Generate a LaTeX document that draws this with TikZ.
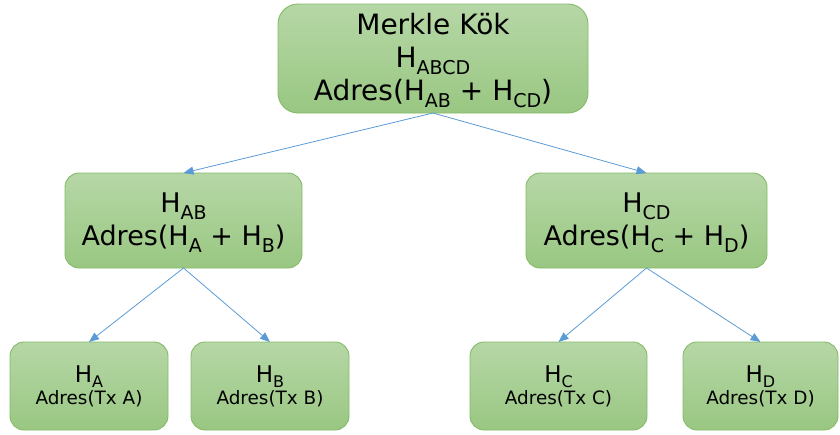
\documentclass[tikz,border=0pt]{standalone}
\usepackage{fontspec}
\setmainfont{DejaVu Sans}
\usetikzlibrary{arrows.meta}

\definecolor{boxtop}{RGB}{182,215,166}
\definecolor{boxbot}{RGB}{153,199,130}
\definecolor{boxline}{RGB}{133,186,104}
\definecolor{linkblue}{RGB}{91,155,213}

% lowered index text for the hash names
\newcommand\bigidx[1]{\smash{\raisebox{-7pt}{\fontsize{19}{19}\selectfont #1}}}
\newcommand\smallidx[1]{\smash{\raisebox{-5.5pt}{\fontsize{16}{16}\selectfont #1}}}

\tikzset{
  hashbox/.style={draw=boxline, line width=0.9pt, top color=boxtop, bottom color=boxbot,
    rounded corners=14pt, inner sep=0pt, outer sep=0pt, align=center, text=black},
  rootbox/.style={hashbox, rounded corners=20pt, font=\fontsize{28}{33}\selectfont},
  midbox/.style={hashbox, font=\fontsize{27}{33}\selectfont},
  leafbox/.style={hashbox, minimum height=88pt, font=\fontsize{18.4}{22}\selectfont},
  link/.style={draw=linkblue, line width=0.8pt, -{Triangle[length=10pt,width=8pt]}}
}

\begin{document}
\begin{tikzpicture}[x=1pt, y=-1pt]
\useasboundingbox (0,0) rectangle (840,434);

\node[rootbox, minimum width=310pt, minimum height=109pt] (root) at (433,58.5)
  {\raisebox{0pt}[0pt][0pt]{}Merkle Kök\\H\bigidx{ABCD}\\Adres(H\bigidx{AB} + H\bigidx{CD})};

\node[midbox, minimum width=237pt, minimum height=95pt] (hab) at (183.5,220.5)
  {H\bigidx{AB}\\Adres(H\bigidx{A} + H\bigidx{B})};
\node[midbox, minimum width=241pt, minimum height=95pt] (hcd) at (646.5,220.5)
  {H\bigidx{CD}\\Adres(H\bigidx{C} + H\bigidx{D})};

\node[leafbox, minimum width=158pt] (ha) at (89,386)
  {{\fontsize{23}{22}\selectfont H\smallidx{A}}\\Adres(Tx A)};
\node[leafbox, minimum width=158pt] (hb) at (270,386)
  {{\fontsize{23}{22}\selectfont H\smallidx{B}}\\Adres(Tx B)};
\node[leafbox, minimum width=177pt] (hc) at (558.5,386)
  {{\fontsize{23}{22}\selectfont H\smallidx{C}}\\Adres(Tx C)};
\node[leafbox, minimum width=155pt] (hd) at (760.5,386)
  {{\fontsize{23}{22}\selectfont H\smallidx{D}}\\Adres(Tx D)};

\draw[link] (root.south) -- (hab.north);
\draw[link] (root.south) -- (hcd.north);
\draw[link] (hab.south) -- (ha.north);
\draw[link] (hab.south) -- (hb.north);
\draw[link] (hcd.south) -- (hc.north);
\draw[link] (hcd.south) -- (hd.north);
\end{tikzpicture}
\end{document}
